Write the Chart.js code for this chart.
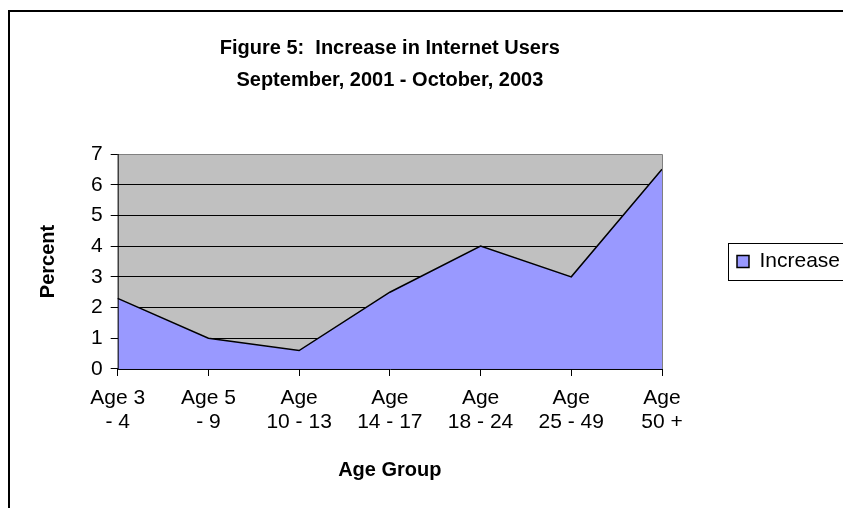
<!DOCTYPE html>
<html>
<head>
<meta charset="utf-8">
<title>Increase in Internet Users</title>
<script src="https://cdn.jsdelivr.net/npm/chart.js@4.4.1/dist/chart.umd.min.js"></script>
<style>
  html, body { margin: 0; padding: 0; background: #fff; }
</style>
</head>
<body>
<canvas id="chart" width="843" height="508"></canvas>
<script>
// values
const ageGroups = [['Age 3', '- 4'], ['Age 5', '- 9'], ['Age', '10 - 13'], ['Age', '14 - 17'], ['Age', '18 - 24'], ['Age', '25 - 49'], ['Age', '50 +']];
const increase = [2.3, 1.0, 0.6, 2.5, 4.0, 3.0, 6.5];
const yMin = 0, yMax = 7, yStep = 1;
const titleLines = ['Figure 5:  Increase in Internet Users', 'September, 2001 - October, 2003'];
const seriesName = 'Increase';
const xTitle = 'Age Group';
const yTitle = 'Percent';

Chart.defaults.font.family = "'Liberation Sans', Arial, sans-serif";
Chart.defaults.color = '#000';

// outer frame, grey plot area, axis lines and the legend box
const framePlugin = {
  id: 'frame',
  beforeDraw(chart) {
    const {ctx, width, height, chartArea: a} = chart;
    ctx.save();
    ctx.fillStyle = '#fff';
    ctx.fillRect(0, 0, width, height);
    ctx.strokeStyle = '#000';
    ctx.lineWidth = 2;
    ctx.strokeRect(9, 11, width + 20, height + 20);
    ctx.fillStyle = '#c0c0c0';
    ctx.fillRect(a.left, a.top, a.right - a.left, a.bottom - a.top);
    ctx.restore();
  },
  afterDatasetsDraw(chart) {
    const {ctx, chartArea: a} = chart;
    ctx.save();
    ctx.lineWidth = 1;
    ctx.strokeStyle = '#808080';
    ctx.beginPath();
    ctx.moveTo(a.left, a.top + 0.5);
    ctx.lineTo(a.right + 0.5, a.top + 0.5);
    ctx.lineTo(a.right + 0.5, a.bottom);
    ctx.stroke();
    ctx.strokeStyle = '#000';
    ctx.beginPath();
    ctx.moveTo(a.left + 0.5, a.top);
    ctx.lineTo(a.left + 0.5, a.bottom + 0.5);
    ctx.lineTo(a.right + 0.5, a.bottom + 0.5);
    ctx.stroke();
    ctx.restore();
  },
  afterDraw(chart) {
    const hit = chart.legend && chart.legend.legendHitBoxes[0];
    if (!hit) return;
    const ctx = chart.ctx;
    const mid = hit.top + hit.height / 2;
    ctx.save();
    ctx.strokeStyle = '#000';
    ctx.lineWidth = 1;
    ctx.strokeRect(Math.round(hit.left - 9) + 0.5, Math.round(mid - 18.5) + 0.5, chart.width, 37);
    ctx.restore();
  }
};

new Chart(document.getElementById('chart'), {
  type: 'line',
  data: {
    labels: ageGroups,
    datasets: [{
      label: seriesName,
      data: increase,
      fill: 'origin',
      backgroundColor: '#9999ff',
      borderColor: '#000',
      borderWidth: 1.5,
      pointRadius: 0,
      tension: 0
    }]
  },
  options: {
    responsive: false,
    animation: false,
    layout: { padding: { left: 2, right: 0, top: 0, bottom: 22 } },
    plugins: {
      tooltip: { enabled: false },
      title: {
        display: true,
        text: titleLines,
        fullSize: false,
        font: { size: 20, weight: 'bold', lineHeight: 1.6 },
        padding: { top: 32, bottom: 58 }
      },
      legend: {
        position: 'right',
        fullSize: false,
        maxWidth: 181,
        labels: {
          boxWidth: 12,
          boxHeight: 12,
          padding: 75,
          font: { size: 21 }
        }
      }
    },
    scales: {
      x: {
        type: 'category',
        offset: false,
        border: { display: false },
        grid: {
          display: true,
          drawOnChartArea: false,
          drawTicks: true,
          tickLength: 7,
          tickColor: '#000',
          offset: false
        },
        ticks: {
          autoSkip: false,
          maxRotation: 0,
          padding: 10,
          font: { size: 21, lineHeight: 1.143 }
        },
        title: {
          display: true,
          text: xTitle,
          font: { size: 20, weight: 'bold', lineHeight: 1.2 },
          padding: { top: 14, bottom: 4 }
        }
      },
      y: {
        min: yMin,
        max: yMax,
        border: { display: false },
        grid: {
          color: ctx => (ctx.tick && ctx.tick.value === yMax ? '#808080' : '#000'),
          lineWidth: 1,
          drawTicks: true,
          tickLength: 7,
          tickColor: '#000'
        },
        ticks: {
          stepSize: yStep,
          padding: 8,
          font: { size: 21 }
        },
        title: {
          display: true,
          text: yTitle,
          font: { size: 20, weight: 'bold', lineHeight: 1.2 },
          padding: { top: 34, bottom: 23 }
        }
      }
    }
  },
  plugins: [framePlugin]
});
</script>
</body>
</html>
